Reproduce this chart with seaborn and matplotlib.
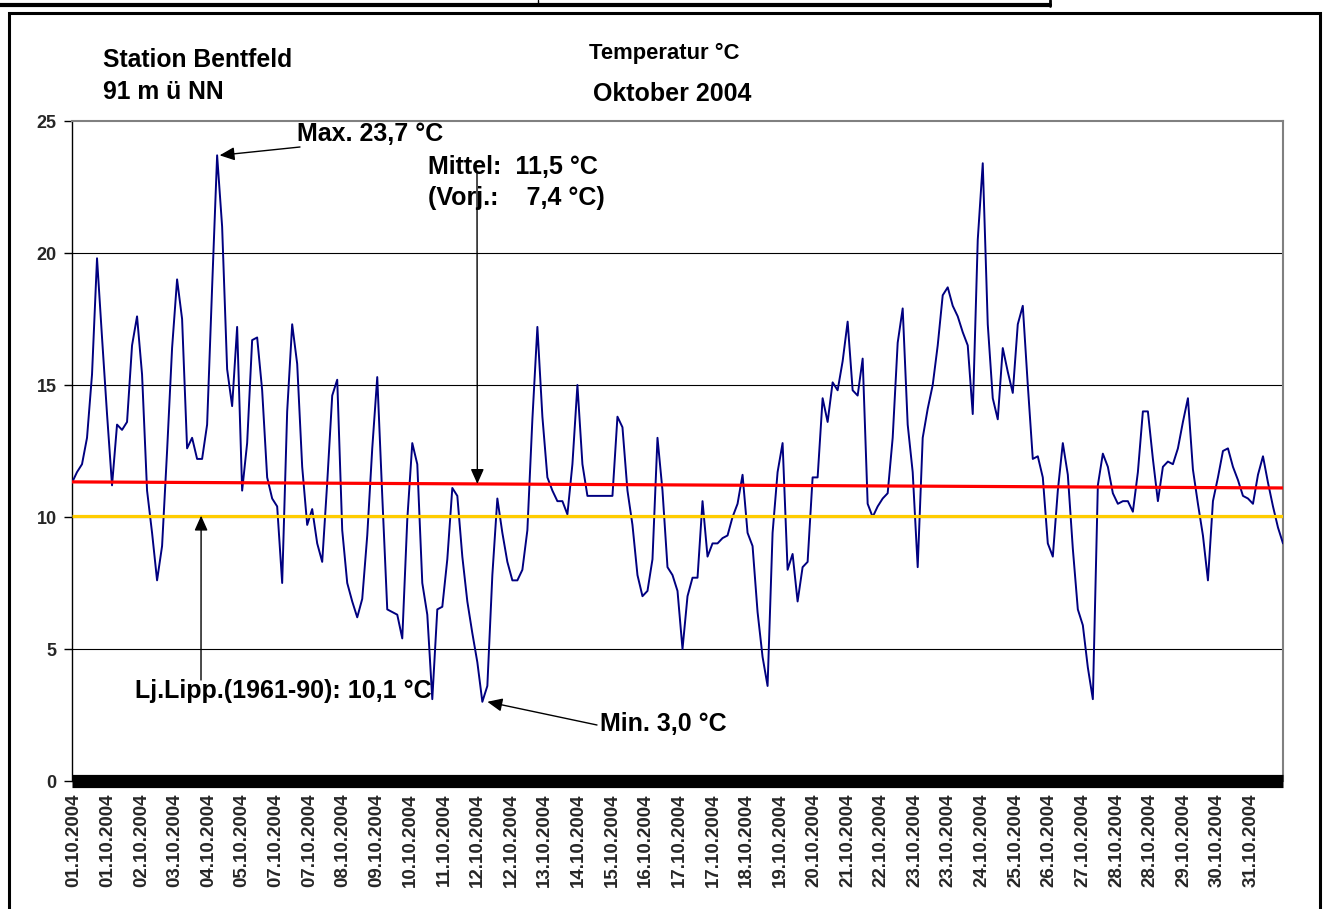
import numpy as np
import pandas as pd
import matplotlib
matplotlib.use("Agg")
import matplotlib.pyplot as plt
import seaborn as sns
from matplotlib.patches import Rectangle
from matplotlib.lines import Line2D

# ---------------- data ----------------
temp_week1 = [11.3, 11.7, 12.0, 13.0, 15.4, 19.8, 16.8, 13.9, 11.2, 13.5, 13.3, 13.6, 16.5, 17.6,
              15.4, 11.0, 9.4, 7.6, 8.9, 12.5, 16.4, 19.0, 17.5, 12.6, 13.0, 12.2, 12.2, 13.5,
              18.7, 23.7, 21.0, 15.6, 14.2, 17.2, 11.0, 12.8, 16.7, 16.8, 14.8, 11.5, 10.7]
temp_week2 = [10.4, 7.5, 14.0, 17.3, 15.8, 11.9, 9.7, 10.3, 9.0, 8.3, 11.3, 14.6, 15.2, 9.5,
              7.5, 6.8, 6.2, 6.9, 9.3, 12.6, 15.3, 10.8, 6.5, 6.4, 6.3, 5.4, 9.9, 12.8,
              12.0, 7.5, 6.3, 3.1, 6.5, 6.6, 8.4, 11.1, 10.8, 8.5, 6.8, 5.6, 4.5]
temp_week3 = [3.0, 3.6, 7.8, 10.7, 9.4, 8.3, 7.6, 7.6, 8.0, 9.5, 13.7, 17.2, 13.8, 11.5,
              11.0, 10.6, 10.6, 10.1, 12.0, 15.0, 12.0, 10.8, 10.8, 10.8, 10.8, 10.8, 10.8, 13.8,
              13.4, 11.0, 9.7, 7.8, 7.0, 7.2, 8.4, 13.0, 11.0, 8.1, 7.8, 7.2, 5.0]
temp_week4 = [7.0, 7.7, 7.7, 10.6, 8.5, 9.0, 9.0, 9.2, 9.3, 10.0, 10.5, 11.6, 9.4, 8.9,
              6.4, 4.7, 3.6, 9.4, 11.7, 12.8, 8.0, 8.6, 6.8, 8.1, 8.3, 11.5, 11.5, 14.5,
              13.6, 15.1, 14.8, 15.9, 17.4, 14.8, 14.6, 16.0, 10.5, 10.0, 10.4, 10.7, 10.9]
temp_week5 = [13.0, 16.6, 17.9, 13.5, 11.7, 8.1, 13.0, 14.1, 15.0, 16.5, 18.4, 18.7, 18.0, 17.6,
              17.0, 16.5, 13.9, 20.5, 23.4, 17.3, 14.5, 13.7, 16.4, 15.5, 14.7, 17.3, 18.0, 15.0,
              12.2, 12.3, 11.5, 9.0, 8.5, 11.0, 12.8, 11.6, 8.8, 6.5, 5.9, 4.3, 3.1]
temp_week6 = [11.2, 12.4, 11.9, 10.9, 10.5, 10.6, 10.6, 10.2, 11.7, 14.0, 14.0, 12.2, 10.6, 11.9,
              12.1, 12.0, 12.6, 13.6, 14.5, 11.8, 10.5, 9.3, 7.6, 10.6, 11.5, 12.5, 12.6, 11.9,
              11.4, 10.8, 10.7, 10.5, 11.6, 12.3, 11.3, 10.4, 9.6, 9.0]

date_labels = ["01.10.2004", "01.10.2004", "02.10.2004", "03.10.2004", "04.10.2004", "05.10.2004",
               "07.10.2004", "07.10.2004", "08.10.2004", "09.10.2004", "10.10.2004", "11.10.2004",
               "12.10.2004", "12.10.2004", "13.10.2004", "14.10.2004", "15.10.2004", "16.10.2004",
               "17.10.2004", "17.10.2004", "18.10.2004", "19.10.2004", "20.10.2004", "21.10.2004",
               "22.10.2004", "23.10.2004", "23.10.2004", "24.10.2004", "25.10.2004", "26.10.2004",
               "27.10.2004", "28.10.2004", "28.10.2004", "29.10.2004", "30.10.2004", "31.10.2004"]

y_ticks = [0, 5, 10, 15, 20, 25]
trend_start = 11.33      # red trend line, left end
trend_end = 11.10        # red trend line, right end
climate_mean = 10.05     # Lj.Lipp. (1961-90)

temperature = temp_week1 + temp_week2 + temp_week3 + temp_week4 + temp_week5 + temp_week6

# ---------------- styling ----------------
sns.set_style("white")
plt.rcParams["font.family"] = ["Liberation Sans", "DejaVu Sans"]
plt.rcParams["font.weight"] = "bold"

W, H = 1328, 909
fig = plt.figure(figsize=(W / 100, H / 100), dpi=100)
fig.patch.set_facecolor("white")
ax = fig.add_axes([72 / W, 1 - 781 / H, 1211 / W, 660 / H])

n = len(temperature)
df = pd.DataFrame({"step": np.arange(n), "temp": temperature})

for v in y_ticks[1:-1]:
    ax.axhline(v, color="black", lw=0.8, zorder=1)

sns.lineplot(data=df, x="step", y="temp", color="#000080", linewidth=1.4, ax=ax, zorder=3)
ax.plot([0, n - 1], [trend_start, trend_end], color="#ff0000", lw=2.3, zorder=4,
        solid_capstyle="butt")
ax.axhline(climate_mean, color="#ffcc00", lw=2.3, zorder=4, solid_capstyle="butt")
ax.axhline(0, color="black", lw=9.5, zorder=5, clip_on=False, solid_capstyle="butt")

ax.set_xlim(0, n - 1)
ax.set_ylim(0, 25)
ax.set_xlabel("")
ax.set_ylabel("")
ax.set_yticks(y_ticks)
ax.set_yticklabels([str(v) for v in y_ticks], fontsize=13, fontweight="bold")
tick_step = 6.72
ax.set_xticks([0.4 + tick_step * i for i in range(len(date_labels))])
ax.set_xticklabels(date_labels, rotation=90, fontsize=13.5, fontweight="bold")
ax.tick_params(axis="x", length=0, pad=9)
ax.tick_params(axis="y", length=6, width=1, direction="out", pad=5, color="black", left=True)

ax.spines["left"].set_color("black")
ax.spines["left"].set_linewidth(1.0)
for s in ("top", "right"):
    ax.spines[s].set_color("#808080")
    ax.spines[s].set_linewidth(1.5)
ax.spines["bottom"].set_visible(False)


def ftext(x, y_top, s, size=18, ha="left", va="baseline"):
    fig.text(x / W, 1 - y_top / H, s, fontsize=size, fontweight="bold", ha=ha, va=va,
             color="black")


ftext(103, 67, "Station Bentfeld", 17.8)
ftext(103, 99, "91 m ü NN", 17.8)
ftext(664, 59, "Temperatur °C", 15.8, ha="center")
ftext(672, 101, "Oktober 2004", 18, ha="center")
ftext(297, 141, "Max. 23,7 °C", 18)
ftext(428, 174, "Mittel:  11,5 °C", 18)
ftext(428, 205, "(Vorj.:    7,4 °C)", 18)
ftext(135, 698, "Lj.Lipp.(1961-90): 10,1 °C", 18)
ftext(600, 731, "Min. 3,0 °C", 18)

arrow = dict(arrowstyle="-|>,head_length=0.9,head_width=0.4", color="black", lw=1.0,
             shrinkA=0, shrinkB=0, mutation_scale=10)

i_max = int(np.argmax(temperature))
i_min = int(np.argmin(temperature))
ax.annotate("", xy=(i_max + 0.5, max(temperature)), xycoords="data",
            xytext=(300, H - 147), textcoords="figure pixels", arrowprops=arrow, zorder=6)
ax.annotate("", xy=(i_min + 1, min(temperature)), xycoords="data",
            xytext=(597, H - 725), textcoords="figure pixels", arrowprops=arrow, zorder=6)
x_mid = 81
ax.annotate("", xy=(x_mid, trend_start + (trend_end - trend_start) * x_mid / (n - 1)),
            xycoords="data", xytext=(477, H - 173), textcoords="figure pixels",
            arrowprops=arrow, zorder=6)
ax.annotate("", xy=(25.8, climate_mean), xycoords="data",
            xytext=(201, H - 680), textcoords="figure pixels", arrowprops=arrow, zorder=6)

# outer frame of the chart area and cut-off title box at the top
fig.patches.append(Rectangle((9 / W, -0.02), (1320 - 9) / W, 1.02 - 13 / H, fill=False,
                             edgecolor="black", lw=2.2, transform=fig.transFigure, zorder=10))
fig.lines.append(Line2D([0, 1050 / W], [1 - 5 / H, 1 - 5 / H], color="black", lw=3,
                        transform=fig.transFigure))
fig.lines.append(Line2D([1050 / W, 1050 / W], [1, 1 - 6 / H], color="black", lw=2,
                        transform=fig.transFigure))
fig.lines.append(Line2D([538 / W, 538 / W], [1, 1 - 5 / H], color="black", lw=1,
                        transform=fig.transFigure))

fig.savefig("out.png", dpi=100, facecolor="white")
